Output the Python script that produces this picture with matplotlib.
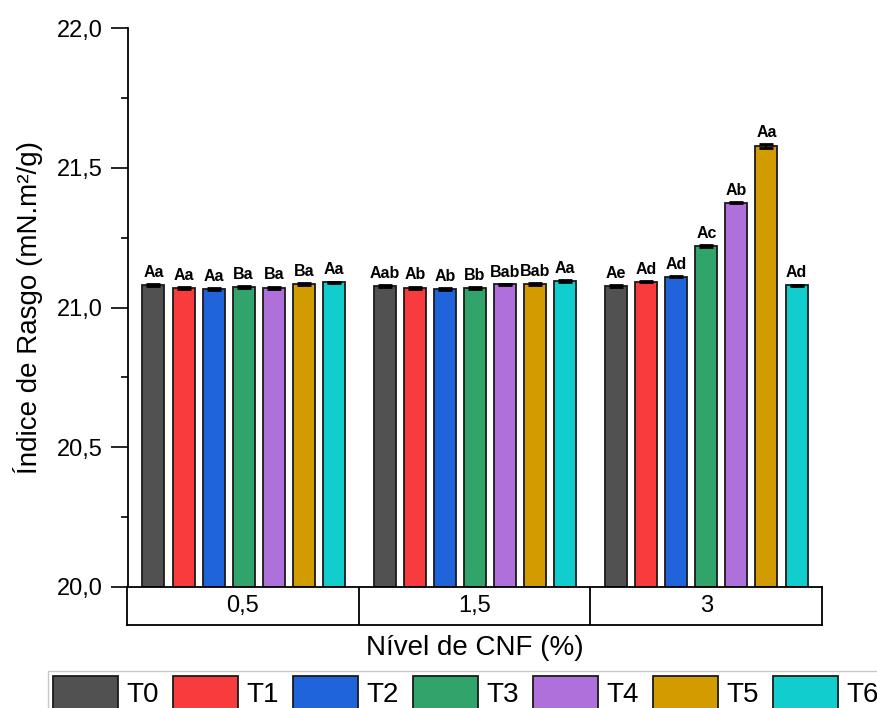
import numpy as np
import matplotlib; matplotlib.use("Agg")
import matplotlib.pyplot as plt
from matplotlib.patches import Patch
from matplotlib.ticker import MultipleLocator, FormatStrFormatter

plt.rcParams["font.family"] = ["Liberation Sans", "DejaVu Sans"]

levels = ["0,5", "1,5", "3"]
treatments = ["T0", "T1", "T2", "T3", "T4", "T5", "T6"]
colors = ["#515151", "#F83C3E", "#1F64DA", "#30A46A", "#B070DC", "#D29B00", "#12CDCD"]

# mean tear index per treatment, one list per CNF level
means = {
    "0,5": [21.080, 21.070, 21.066, 21.073, 21.071, 21.084, 21.091],
    "1,5": [21.077, 21.071, 21.065, 21.069, 21.083, 21.085, 21.095],
    "3":   [21.077, 21.092, 21.110, 21.220, 21.375, 21.578, 21.080],
}
errors = {
    "0,5": [0.003, 0.003, 0.004, 0.003, 0.004, 0.003, 0.002],
    "1,5": [0.003, 0.004, 0.003, 0.003, 0.002, 0.003, 0.003],
    "3":   [0.003, 0.002, 0.002, 0.003, 0.002, 0.006, 0.002],
}
letters = {
    "0,5": ["Aa", "Aa", "Aa", "Ba", "Ba", "Ba", "Aa"],
    "1,5": ["Aab", "Ab", "Ab", "Bb", "Bab", "Bab", "Aa"],
    "3":   ["Ae", "Ad", "Ad", "Ac", "Ab", "Aa", "Ad"],
}

W, H = 878, 708
fig = plt.figure(figsize=(W / 100, H / 100), dpi=100)
ax = fig.add_axes([128 / W, 1 - 587 / H, 694 / W, 559 / H])

pitch, width = 0.13, 0.095
for g, lvl in enumerate(levels):
    for k, t in enumerate(treatments):
        x = g + (k - 3) * pitch
        y, e = means[lvl][k], errors[lvl][k]
        ax.bar(x, y - 20, bottom=20, width=width, color=colors[k],
               edgecolor="#1a1a1a", linewidth=1.3, zorder=2)
        ax.errorbar(x, y, yerr=e, fmt="none", ecolor="black", elinewidth=1.5,
                    capsize=5, capthick=2, zorder=3)
        ax.annotate(letters[lvl][k], (x, y + e), xytext=(0, 3),
                    textcoords="offset points", ha="center", va="bottom",
                    fontsize=11.5, fontweight="bold")

ax.set_xlim(-0.5, 2.5)
ax.set_ylim(20, 22)
ax.yaxis.set_major_locator(MultipleLocator(0.5))
ax.yaxis.set_minor_locator(MultipleLocator(0.25))
ax.yaxis.set_major_formatter(FormatStrFormatter("%.1f"))
ax.set_yticklabels([f"{v:.1f}".replace(".", ",") for v in ax.get_yticks()])
ax.tick_params(axis="y", which="major", length=12, width=1.2, labelsize=17, pad=6)
ax.tick_params(axis="y", which="minor", length=5, width=1.2)
ax.set_xticks([])
for s in ["top", "right", "bottom"]:
    ax.spines[s].set_visible(False)
ax.spines["left"].set_linewidth(1.3)
ax.set_ylabel("Índice de Rasgo (mN.m²/g)", fontsize=20, labelpad=10)

# category box under the bars
box = fig.add_axes([127 / W, 1 - 625 / H, 695 / W, 38 / H])
box.set_xlim(-0.5, 2.5)
box.set_ylim(0, 1)
box.set_xticks([]); box.set_yticks([])
for s in box.spines.values():
    s.set_linewidth(1.3)
for g, lvl in enumerate(levels):
    box.text(g, 0.5, lvl, ha="center", va="center", fontsize=17)
    if g:
        box.axvline(g - 0.5, color="black", linewidth=1.3)

fig.text(475 / W, 1 - 648 / H, "Nível de CNF (%)", ha="center", va="center", fontsize=20)

handles = [Patch(facecolor=c, edgecolor="#1a1a1a", linewidth=1.3) for c in colors]
leg = fig.legend(handles, treatments, loc="upper left",
                 bbox_to_anchor=(48 / W, 1 - 671 / H), ncol=7, fontsize=20,
                 frameon=True, fancybox=False, edgecolor="#bbbbbb",
                 handlelength=2.35, handleheight=1.5, handletextpad=0.3,
                 columnspacing=0.5, borderpad=0.18, borderaxespad=0)
leg.get_frame().set_linewidth(1.0)

fig.savefig("out.png", dpi=100)
